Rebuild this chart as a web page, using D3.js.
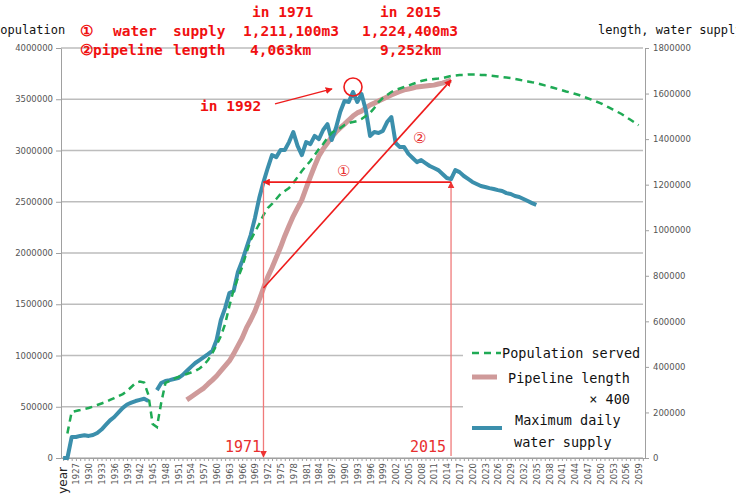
<!DOCTYPE html>
<html>
<head>
<meta charset="utf-8">
<script src="https://cdn.jsdelivr.net/npm/d3@7"></script>
<style>
  body { margin: 0; background: #fff; }
  svg { display: block; }
</style>
</head>
<body>
<script>
// categories: first slot is the "year" header cell (stands for 1924), then 1925..2060
var categories = ["year"].concat(d3.range(1925, 2061).map(String));

// population served (left axis), 1925..2059
var popStart = 1925;
var popServed = [
  240000, 449000, 459000, 468000, 478000, 488000, 502000, 517000, 532000, 546000,
  566000, 585000, 605000, 624000, 654000, 693000, 732000, 746000, 737000, 615000,
  332000, 302000, 537000, 732000, 751000, 771000, 790000, 805000, 820000, 834000,
  849000, 873000, 907000, 956000, 1024000, 1102000, 1190000, 1307000, 1483000, 1639000,
  1756000, 1863000, 2000000, 2127000, 2205000, 2283000, 2371000, 2439000, 2478000, 2527000,
  2576000, 2605000, 2634000, 2683000, 2741000, 2800000, 2849000, 2898000, 2956000, 3015000,
  3063000, 3122000, 3171000, 3200000, 3219000, 3249000, 3268000, 3278000, 3288000, 3307000,
  3337000, 3366000, 3415000, 3473000, 3512000, 3541000, 3571000, 3590000, 3605000, 3619000,
  3634000, 3649000, 3663000, 3678000, 3688000, 3693000, 3698000, 3702000, 3707000, 3717000,
  3727000, 3732000, 3737000, 3737000, 3741000, 3741000, 3741000, 3737000, 3737000, 3732000,
  3727000, 3722000, 3717000, 3712000, 3707000, 3698000, 3690000, 3682000, 3674000, 3666000,
  3659000, 3647000, 3635000, 3624000, 3612000, 3600000, 3588000, 3576000, 3565000, 3553000,
  3541000, 3526000, 3510000, 3495000, 3479000, 3463000, 3442000, 3420000, 3399000, 3378000,
  3356000, 3329000, 3302000, 3274000, 3247000
];

// maximum daily water supply (right axis), 1924..2035
var supplyStart = 1924;
var maxSupply = [
  0, 0, 92000, 92000, 97000, 100000, 97000, 101000, 110000, 125000,
  145000, 165000, 180000, 200000, 220000, 235000, 243000, 250000, 255000, 260000,
  250000, null, 298000, 329000, 338000, 342000, 347000, 351000, 364000, 382000,
  400000, 417000, 430000, 443000, 456000, 470000, 518000, 606000, 658000, 724000,
  733000, 817000, 865000, 922000, 979000, 1054000, 1141000, 1211100, 1273000, 1330000,
  1321000, 1352000, 1352000, 1387000, 1431000, 1370000, 1330000, 1387000, 1378000, 1414000,
  1400000, 1440000, 1466000, 1396000, 1449000, 1519000, 1567000, 1563000, 1607000, 1563000,
  1598000, 1528000, 1414000, 1431000, 1427000, 1436000, 1475000, 1497000, 1383000, 1365000,
  1365000, 1335000, 1317000, 1299000, 1308000, 1295000, 1282000, 1273000, 1264000, 1247000,
  1229000, 1224400, 1264000, 1255000, 1238000, 1225000, 1212000, 1203000, 1194000, 1190000,
  1185000, 1181000, 1176000, 1172000, 1163000, 1159000, 1150000, 1146000, 1137000, 1128000,
  1119000, 1111000
];

// pipeline length x 400 (right axis), 1953..2015
var pipeStart = 1953;
var pipeline = [
  255000, 268000, 281000, 294000, 307000, 325000, 342000, 360000, 382000, 404000,
  426000, 457000, 492000, 527000, 571000, 606000, 645000, 694000, 746000, 795000,
  835000, 880000, 925000, 975000, 1020000, 1062000, 1098000, 1133000, 1185000, 1234000,
  1282000, 1326000, 1357000, 1383000, 1409000, 1431000, 1449000, 1466000, 1484000, 1501000,
  1515000, 1523000, 1537000, 1550000, 1558000, 1567000, 1576000, 1585000, 1594000, 1602000,
  1609000, 1616000, 1620000, 1624000, 1629000, 1631000, 1633000, 1635000, 1637000, 1642000,
  1646000, 1653000, 1659000
];

var leftTicks = [0, 500000, 1000000, 1500000, 2000000, 2500000, 3000000, 3500000, 4000000];
var rightTicks = [0, 200000, 400000, 600000, 800000, 1000000, 1200000, 1400000, 1600000, 1800000];

var W = 736, H = 496;
var plotL = 61, plotR = 645, plotT = 48, plotB = 458;

var svg = d3.select("body").append("svg")
    .attr("width", W)
    .attr("height", H);

var x = d3.scalePoint()
    .domain(categories)
    .range([plotL, plotR])
    .padding(0.5);

var yL = d3.scaleLinear().domain([0, 4000000]).range([plotB, plotT]);
var yR = d3.scaleLinear().domain([0, 1800000]).range([plotB, plotT]);

function xYear(yr) { return yr === 1924 ? x("year") : x(String(yr)); }

// gridlines (left axis)
svg.append("g")
    .selectAll("line")
    .data(leftTicks)
    .enter()
    .append("line")
    .attr("x1", plotL)
    .attr("x2", plotR - 2)
    .attr("y1", function (d) { return yL(d); })
    .attr("y2", function (d) { return yL(d); })
    .attr("stroke", "#bdbdbd")
    .attr("stroke-width", 1.5);

// left axis
var gL = svg.append("g")
    .attr("transform", "translate(" + plotL + ",0)")
    .call(d3.axisLeft(yL).tickValues(leftTicks).tickSize(5).tickSizeOuter(0).tickFormat(d3.format("d")));
gL.selectAll("path, line").attr("stroke", "#a0a0a0");
gL.selectAll("text")
    .attr("font-family", "DejaVu Sans")
    .attr("font-size", "8.5px")
    .attr("fill", "#555");

// right axis
var gR = svg.append("g")
    .attr("transform", "translate(" + plotR + ",0)")
    .call(d3.axisRight(yR).tickValues(rightTicks).tickSize(4).tickSizeOuter(0).tickFormat(d3.format("d")));
gR.selectAll("path, line").attr("stroke", "#a0a0a0");
gR.selectAll("text")
    .attr("font-family", "DejaVu Sans")
    .attr("font-size", "8.5px")
    .attr("fill", "#555")
    .attr("x", 8);

// bottom axis with a tick per category, label every 3rd
var gB = svg.append("g")
    .attr("transform", "translate(0," + plotB + ")")
    .call(d3.axisBottom(x).tickSize(3).tickSizeOuter(0).tickFormat(function (d, i) {
        return i % 3 === 0 ? d : "";
    }));
gB.select("path").attr("stroke", "#a0a0a0");
gB.selectAll("line").attr("stroke", "#a0a0a0");
gB.selectAll("text")
    .attr("font-family", "DejaVu Sans")
    .attr("font-size", "8.5px")
    .attr("fill", "#555")
    .attr("text-anchor", "end")
    .attr("transform", "rotate(-90)")
    .attr("x", -5)
    .attr("y", 0)
    .attr("dy", "0.35em");
gB.selectAll("text")
    .filter(function (d) { return d === "year"; })
    .attr("font-size", "12px")
    .attr("fill", "#222")
    .attr("x", -9)
    .attr("y", -1);

// series lines
var linePop = d3.line()
    .defined(function (d) { return d.v != null; })
    .x(function (d) { return xYear(d.yr); })
    .y(function (d) { return yL(d.v); });

var lineRight = d3.line()
    .defined(function (d) { return d.v != null; })
    .x(function (d) { return xYear(d.yr); })
    .y(function (d) { return yR(d.v); });

function toPoints(arr, start) {
    return arr.map(function (v, i) { return { yr: start + i, v: v }; });
}

svg.append("path")
    .datum(toPoints(pipeline, pipeStart))
    .attr("d", lineRight)
    .attr("fill", "none")
    .attr("stroke", "#cf9a9a")
    .attr("stroke-width", 5)
    .attr("stroke-linejoin", "round");

svg.append("path")
    .datum(toPoints(maxSupply, supplyStart))
    .attr("d", lineRight)
    .attr("fill", "none")
    .attr("stroke", "#3b8fac")
    .attr("stroke-width", 4)
    .attr("stroke-linejoin", "round");

svg.append("path")
    .datum(toPoints(popServed, popStart))
    .attr("d", linePop)
    .attr("fill", "none")
    .attr("stroke", "#1faa55")
    .attr("stroke-width", 2.5)
    .attr("stroke-dasharray", "7,5");

// legend
svg.append("rect")
    .attr("x", 463).attr("y", 336)
    .attr("width", plotR - 2 - 463).attr("height", plotB - 337)
    .attr("fill", "#fff");

var legFont = "DejaVu Sans Mono";
svg.append("line")
    .attr("x1", 472).attr("x2", 501).attr("y1", 353).attr("y2", 353)
    .attr("stroke", "#1faa55").attr("stroke-width", 2.5).attr("stroke-dasharray", "7,5");
svg.append("line")
    .attr("x1", 472).attr("x2", 497).attr("y1", 377).attr("y2", 377)
    .attr("stroke", "#cf9a9a").attr("stroke-width", 5);
svg.append("line")
    .attr("x1", 472).attr("x2", 502).attr("y1", 428).attr("y2", 428)
    .attr("stroke", "#3b8fac").attr("stroke-width", 4);

var legendText = [
    ["Population served", 502, 358, "start"],
    ["Pipeline length", 508, 383, "start"],
    ["\u00d7 400", 630, 404, "end"],
    ["Maximum daily", 515, 425, "start"],
    ["water supply", 514, 447, "start"]
];
svg.selectAll("text.leg")
    .data(legendText)
    .enter()
    .append("text")
    .attr("class", "leg")
    .text(function (d) { return d[0]; })
    .attr("x", function (d) { return d[1]; })
    .attr("y", function (d) { return d[2]; })
    .attr("text-anchor", function (d) { return d[3]; })
    .attr("font-family", legFont)
    .attr("font-size", "13.5px")
    .attr("fill", "#111");

// red annotations
var defs = svg.append("defs");
function marker(id, color) {
    defs.append("marker")
        .attr("id", id)
        .attr("viewBox", "0 0 10 10")
        .attr("refX", 9).attr("refY", 5)
        .attr("markerWidth", 7).attr("markerHeight", 7)
        .attr("markerUnits", "userSpaceOnUse")
        .attr("orient", "auto")
        .append("path")
        .attr("d", "M0,0 L10,5 L0,10 z")
        .attr("fill", color);
}
marker("arrRed", "#ee1c1c");
marker("arrPink", "#ee3333");

var x71 = xYear(1971), x15 = xYear(2015);
var ySupply = yR(1211100);

svg.append("line")
    .attr("x1", x71).attr("x2", x71).attr("y1", ySupply).attr("y2", plotB - 1)
    .attr("stroke", "#f07a7a").attr("stroke-width", 1.3)
    .attr("marker-end", "url(#arrPink)");
svg.append("line")
    .attr("x1", x15).attr("x2", x15).attr("y1", plotB - 2).attr("y2", ySupply)
    .attr("stroke", "#f07a7a").attr("stroke-width", 1.3)
    .attr("marker-end", "url(#arrPink)");
svg.append("line")
    .attr("x1", x15).attr("x2", x71).attr("y1", ySupply).attr("y2", ySupply)
    .attr("stroke", "#ee1c1c").attr("stroke-width", 1.6)
    .attr("marker-end", "url(#arrRed)");
svg.append("line")
    .attr("x1", x71).attr("y1", yR(pipeline[1971 - pipeStart]))
    .attr("x2", x15).attr("y2", yR(pipeline[2015 - pipeStart]))
    .attr("stroke", "#ee1c1c").attr("stroke-width", 1.6)
    .attr("marker-end", "url(#arrRed)");

var cx92 = xYear(1992), cy92 = yR(maxSupply[1992 - supplyStart]) - 5;
svg.append("circle")
    .attr("cx", cx92).attr("cy", cy92).attr("r", 9)
    .attr("fill", "none").attr("stroke", "#ee1c1c").attr("stroke-width", 1.6);
svg.append("line")
    .attr("x1", cx92 - 78).attr("y1", cy92 + 17)
    .attr("x2", cx92 - 21).attr("y2", cy92 + 2)
    .attr("stroke", "#ee1c1c").attr("stroke-width", 1.3)
    .attr("marker-end", "url(#arrRed)");

var redBold = [
    ["in 1992", 200, 111],
    ["in 1971", 252, 17],
    ["in 2015", 380, 17],
    ["\u2460", 80, 36],
    ["water", 113, 36],
    ["supply", 173, 36],
    ["1,211,100m3", 243, 36],
    ["1,224,400m3", 362, 36],
    ["\u2461pipeline", 80, 55],
    ["length", 173, 55],
    ["4,063km", 250, 55],
    ["9,252km", 380, 55]
];
svg.selectAll("text.red")
    .data(redBold)
    .enter()
    .append("text")
    .attr("class", "red")
    .text(function (d) { return d[0]; })
    .attr("x", function (d) { return d[1]; })
    .attr("y", function (d) { return d[2]; })
    .attr("font-family", "DejaVu Sans Mono")
    .attr("font-weight", "bold")
    .attr("font-size", "14.5px")
    .attr("fill", "#f01010");

var redPlain = [
    ["\u2460", 337, 176],
    ["\u2461", 413, 143],
    ["1971", 225, 452],
    ["2015", 410, 452]
];
svg.selectAll("text.redp")
    .data(redPlain)
    .enter()
    .append("text")
    .attr("class", "redp")
    .text(function (d) { return d[0]; })
    .attr("x", function (d) { return d[1]; })
    .attr("y", function (d) { return d[2]; })
    .attr("font-family", "DejaVu Sans Mono")
    .attr("font-size", "15px")
    .attr("fill", "#e83030");

// axis titles (cut off by the frame like the original)
svg.append("text")
    .text("Population")
    .attr("x", -7).attr("y", 34)
    .attr("font-family", "DejaVu Sans Mono")
    .attr("font-size", "12px")
    .attr("fill", "#111");
svg.append("text")
    .text("length, water supply")
    .attr("x", 598).attr("y", 34)
    .attr("font-family", "DejaVu Sans Mono")
    .attr("font-size", "12px")
    .attr("fill", "#111");
</script>
</body>
</html>
